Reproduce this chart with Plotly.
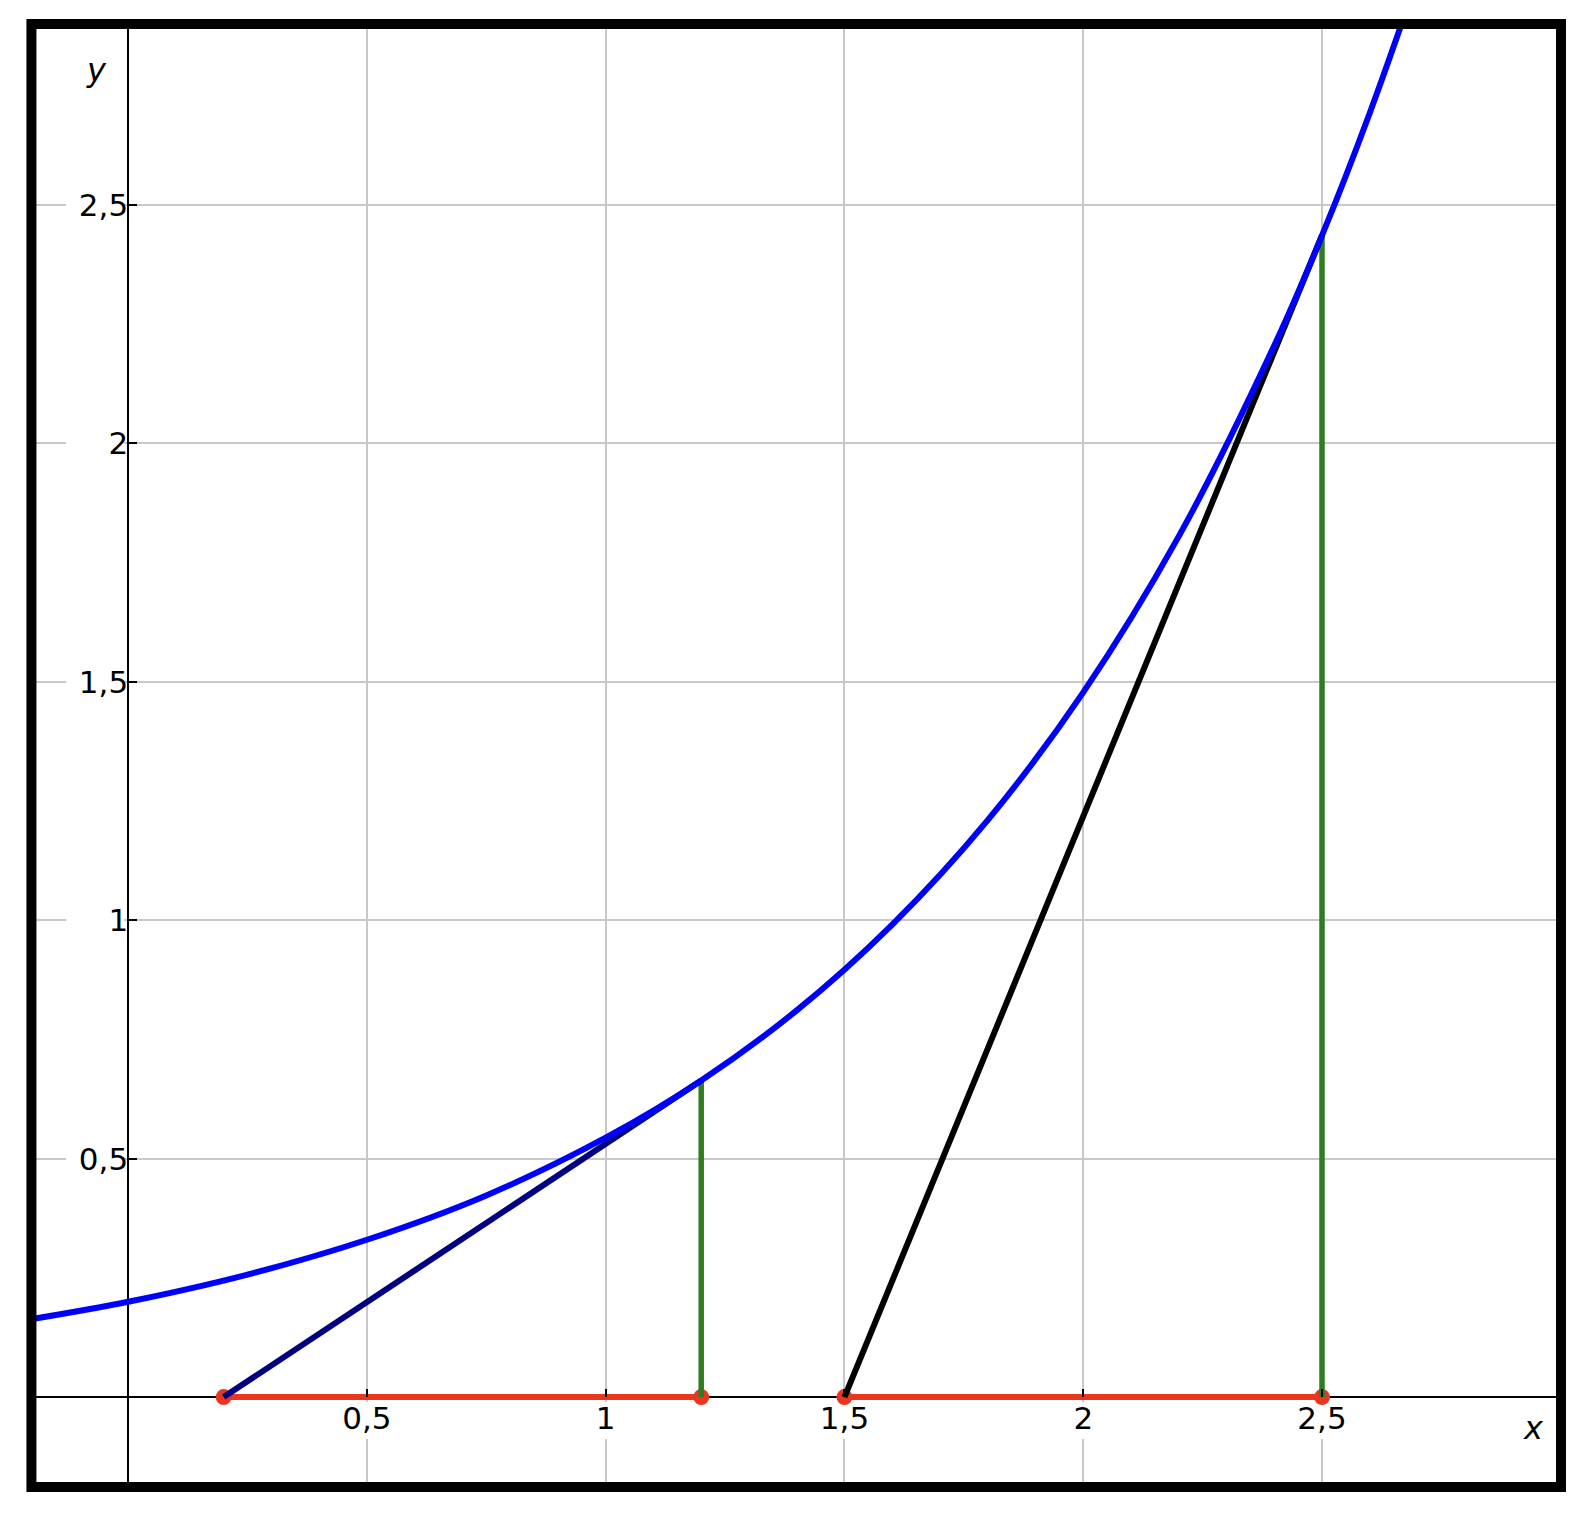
import plotly.graph_objects as go

# curve
curve_x = [-0.2, 0.0, 0.25, 0.5, 0.75, 1.0, 1.2, 1.4, 1.6, 1.8, 2.0, 2.2, 2.4, 2.5, 2.6, 2.7]
curve_y = [0.164, 0.2, 0.257, 0.33, 0.423, 0.544, 0.664, 0.811, 0.991, 1.21, 1.478, 1.805, 2.205, 2.436, 2.693, 2.976]

# tangent points and where the tangents meet the x axis
touch_x = [1.2, 2.5]
touch_y = [0.664, 2.436]
cross_x = [0.2, 1.5]

tick_vals = [0.5, 1, 1.5, 2, 2.5]
tick_text = ["0,5", "1", "1,5", "2", "2,5"]

x_range = [-0.193, 2.99]
y_range = [-0.178, 2.869]

font = "DejaVu Sans"
red = "#e8361f"
green = "#2f7d1f"
tangent_colors = ["#000080", "#000000"]

fig = go.Figure()

# red segments on the x axis
for a, b in zip(cross_x, touch_x):
    fig.add_trace(go.Scatter(x=[a, b], y=[0, 0], mode="lines",
                             line=dict(color=red, width=6), hoverinfo="skip"))

# endpoints
fig.add_trace(go.Scatter(x=cross_x + touch_x, y=[0] * 4, mode="markers",
                         marker=dict(color=red, size=16), hoverinfo="skip"))

# green verticals
for tx, ty in zip(touch_x, touch_y):
    fig.add_trace(go.Scatter(x=[tx, tx], y=[0, ty], mode="lines",
                             line=dict(color=green, width=5.5), hoverinfo="skip"))

# tangents
for a, tx, ty, c in zip(cross_x, touch_x, touch_y, tangent_colors):
    fig.add_trace(go.Scatter(x=[a, tx], y=[0, ty], mode="lines",
                             line=dict(color=c, width=6), hoverinfo="skip"))

# the curve
fig.add_trace(go.Scatter(x=curve_x, y=curve_y, mode="lines",
                         line=dict(color="#0000ff", width=6, shape="spline"),
                         hoverinfo="skip"))

# white gaps in the grid behind the labels
for v in tick_vals:
    fig.add_shape(type="rect", layer="between", xref="x", yref="y",
                  xsizemode="pixel", xanchor=v, x0=-28, x1=28,
                  ysizemode="pixel", yanchor=0, y0=-5, y1=-42,
                  line_width=0, fillcolor="white")
    fig.add_shape(type="rect", layer="between", xref="x", yref="y",
                  xsizemode="pixel", xanchor=0, x0=-4, x1=-62,
                  ysizemode="pixel", yanchor=v, y0=-14, y1=14,
                  line_width=0, fillcolor="white")

# frame
fig.add_shape(type="rect", xref="paper", yref="paper",
              x0=-0.003, x1=1.0033, y0=-0.0034, y1=1.0034,
              line=dict(color="black", width=10))

fig.add_annotation(xref="paper", yref="paper", x=0.985, y=0.037,
                   xanchor="center", yanchor="middle",
                   text="<i>x</i>", showarrow=False,
                   font=dict(family=font, size=32, color="black"))
fig.add_annotation(xref="paper", yref="paper", x=0.04, y=0.972,
                   xanchor="center", yanchor="middle",
                   text="<i>y</i>", showarrow=False,
                   font=dict(family=font, size=32, color="black"))

# zero lines sit under the traces, ticks hang on the free-anchored axes
axis_common = dict(tickvals=tick_vals, ticktext=tick_text, ticks="inside",
                   ticklen=8, tickwidth=1.5, tickcolor="black",
                   showgrid=True, gridcolor="#c8c8c8", gridwidth=1.5,
                   zeroline=True, zerolinecolor="black", zerolinewidth=1.5,
                   showline=False,
                   tickfont=dict(family=font, size=31, color="black"),
                   anchor="free")

fig.update_xaxes(range=x_range, position=(0 - y_range[0]) / (y_range[1] - y_range[0]),
                 **axis_common)
fig.update_yaxes(range=y_range, position=(0 - x_range[0]) / (x_range[1] - x_range[0]),
                 **axis_common)

fig.update_layout(width=1570, height=1504, showlegend=False,
                  margin=dict(l=28, r=22, t=21, b=30),
                  plot_bgcolor="white", paper_bgcolor="white",
                  separators=",.")

fig.write_html("out.html")
